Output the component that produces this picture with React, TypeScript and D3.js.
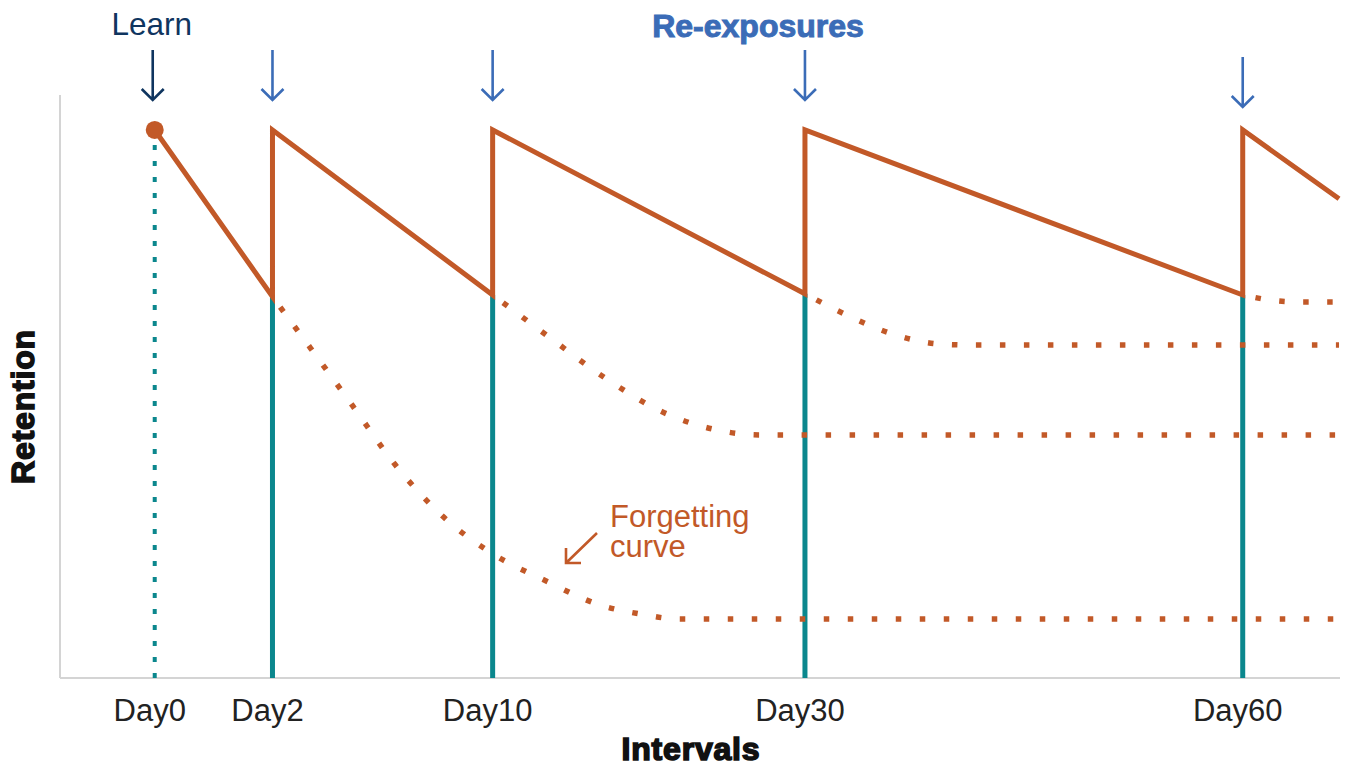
import * as React from 'react'
import * as d3 from 'd3'

type Pt = [number, number];

// interval ticks (days) and their labels
const DAYS = [0, 2, 10, 30, 60];
const TICK_LABELS = ['Day0', 'Day2', 'Day10', 'Day30', 'Day60'];

// retention (0-100) of the main saw-tooth: learn, decay, re-expose...
const PEAK = 94;
const SAWTOOTH: Pt[] = [
  [0, 94], [2, 65.4], [2, 94], [10, 65.7], [10, 94],
  [30, 65.9], [30, 94], [60, 65.7], [60, 94], [66.6, 82.2],
];

// forgetting curves if no re-exposure happened
const CURVE_DAY2: Pt[] = [
  [2, 65.4], [3.38, 56.6], [4.91, 46.7], [6.44, 36.7], [8.22, 27.6], [10, 21.3],
  [13.3, 16.8], [16.9, 12.5], [19.4, 11.0], [22, 10.1], [66.6, 10.1],
];
const CURVE_DAY10: Pt[] = [
  [10, 65.7], [13.46, 58.8], [17.18, 51.5], [21.15, 45.3], [24.1, 42.7], [27.1, 41.7], [66.6, 41.7],
];
const CURVE_DAY30: Pt[] = [
  [30, 65.9], [33, 62.1], [36, 59], [39.2, 57.3], [41.5, 57.1], [66.6, 57.1],
];
const CURVE_DAY60: Pt[] = [
  [60, 65.7], [62.3, 64.7], [63.9, 64.5], [66.6, 64.5],
];
const FORGETTING = [CURVE_DAY2, CURVE_DAY10, CURVE_DAY30, CURVE_DAY60];

// trough retention at each re-exposure day
const TROUGHS = [65.4, 65.7, 65.9, 65.7];

const ORANGE = '#c25928';
const TEAL = '#0b878d';
const NAVY = '#0f355f';
const BLUE = '#3b6cb7';
const FONT = "'Liberation Sans', Arial, sans-serif";

const W = 1353;
const H = 766;

const App: React.FC = () => {
  const left = 60, right = 1340, top = 95, bottom = 678;
  const pw = right - left;

  // uneven spacing of the interval axis
  const x = d3.scaleLinear()
    .domain(DAYS)
    .range([0.074, 0.166, 0.338, 0.582, 0.924].map(f => left + f * pw));
  const y = d3.scaleLinear().domain([0, 100]).range([bottom, top]);

  const straight = d3.line<Pt>().x(d => x(d[0])).y(d => y(d[1]));
  const smooth = d3.line<Pt>().x(d => x(d[0])).y(d => y(d[1])).curve(d3.curveMonotoneX);

  const arrow = (cx: number, y0: number, y1: number) =>
    `M${cx},${y0}V${y1}M${cx - 11},${y1 - 11}L${cx},${y1}L${cx + 11},${y1 - 11}`;

  return (
    <svg width={W} height={H} style={{ position: 'absolute', left: 0, top: 0, background: '#fff' }}>
      {/* axes */}
      <line x1={left} x2={left} y1={top} y2={bottom} stroke="#d4d4d4" strokeWidth={2} />
      <line x1={left} x2={right} y1={bottom} y2={bottom} stroke="#d4d4d4" strokeWidth={2} />

      {/* learn marker */}
      <line x1={x(0)} x2={x(0)} y1={y(0)} y2={y(PEAK) + 12} stroke={TEAL} strokeWidth={4}
        strokeDasharray="5 11" />
      {DAYS.slice(1).map((d, i) => (
        <line key={d} x1={x(d)} x2={x(d)} y1={y(0)} y2={y(TROUGHS[i])} stroke={TEAL} strokeWidth={5} />
      ))}

      {/* forgetting curves */}
      {FORGETTING.map((c, i) => (
        <path key={i} d={smooth(c) || ''} fill="none" stroke={ORANGE} strokeWidth={5.5}
          strokeDasharray="5.5 18.5" strokeDashoffset={11} />
      ))}

      {/* retention saw-tooth */}
      <path d={straight(SAWTOOTH) || ''} fill="none" stroke={ORANGE} strokeWidth={5}
        strokeLinejoin="miter" />
      <circle cx={x(0)} cy={y(PEAK)} r={9} fill={ORANGE} />

      {/* arrows */}
      {DAYS.map((d, i) => {
        const drop = i === DAYS.length - 1 ? 7 : 0;
        return (
          <path key={d} d={arrow(x(d) - (i === 0 ? 2 : 0), 50 + drop, 100 + drop)} fill="none"
            stroke={i === 0 ? NAVY : BLUE} strokeWidth={2.6} />
        );
      })}
      <text x={x(0) - 3} y={35} textAnchor="middle" fontFamily={FONT} fontSize={31.5} fill={NAVY}>Learn</text>
      <text x={758} y={37} textAnchor="middle" fontFamily={FONT} fontSize={32} fontWeight={700}
        fill={BLUE} stroke={BLUE} strokeWidth={1}>Re-exposures</text>

      {/* tick labels */}
      {DAYS.map((d, i) => (
        <text key={d} x={x(d) - 5} y={721} textAnchor="middle" fontFamily={FONT} fontSize={31}
          fill="#222">{TICK_LABELS[i]}</text>
      ))}

      {/* axis titles */}
      <text x={691} y={760} textAnchor="middle" fontFamily={FONT} fontSize={32} fontWeight={700}
        fill="#111" stroke="#111" strokeWidth={1.6} letterSpacing={0.8}>Intervals</text>
      <text transform={`translate(34,${(top + bottom) / 2 + 20}) rotate(-90)`} textAnchor="middle"
        fontFamily={FONT} fontSize={32} fontWeight={700} fill="#111" stroke="#111" strokeWidth={1.6}
        letterSpacing={0.8}>Retention</text>

      {/* annotation */}
      <text x={610} y={527} fontFamily={FONT} fontSize={31} fill={ORANGE}>
        <tspan x={610} y={527}>Forgetting</tspan>
        <tspan x={610} y={557}>curve</tspan>
      </text>
      <path d="M597,533L566,563M566,548V563H581" fill="none" stroke={ORANGE} strokeWidth={2.6} />
    </svg>
  );
};

export default App;
